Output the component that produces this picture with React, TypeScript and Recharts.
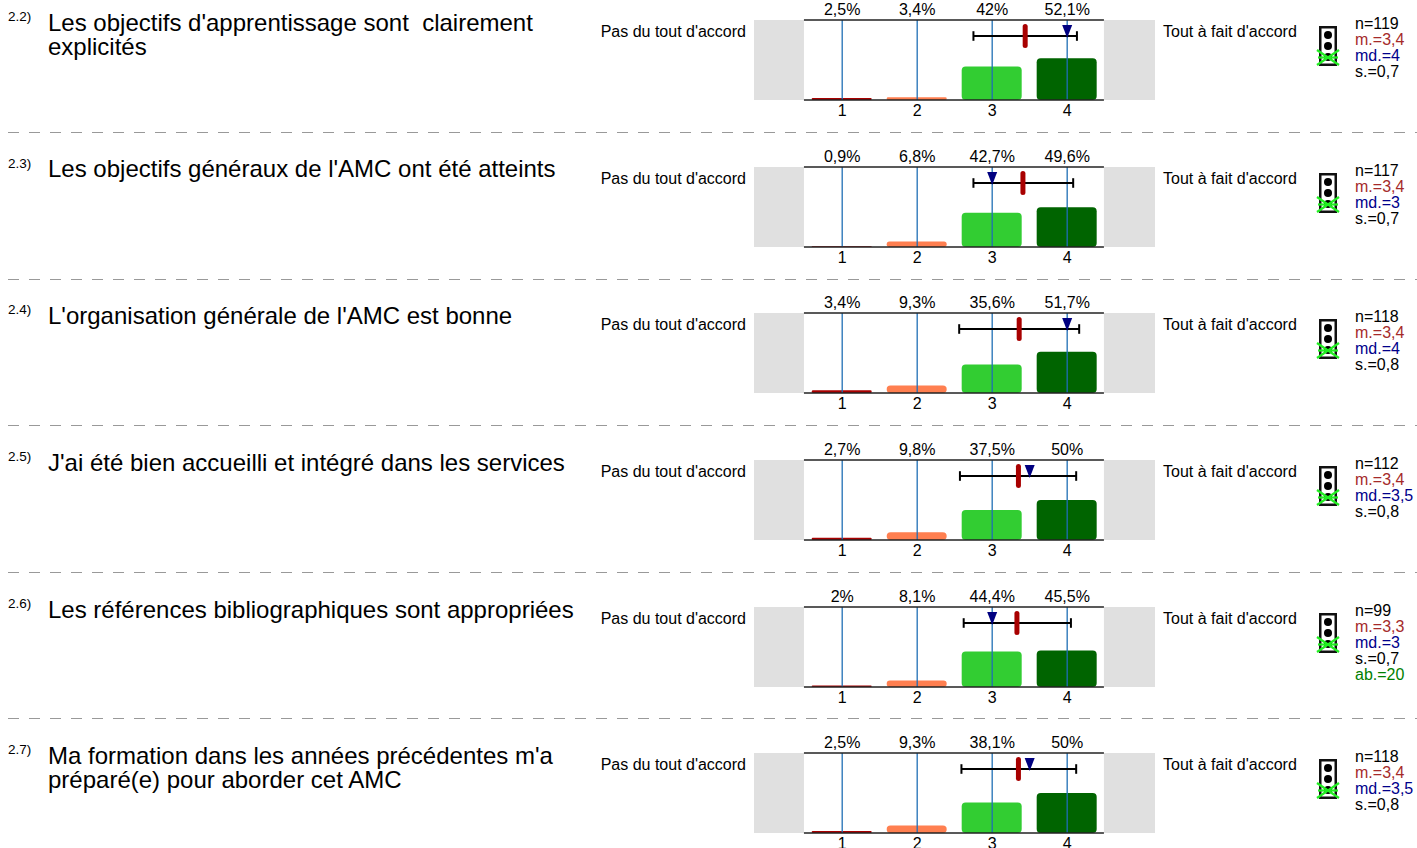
import { Bar, Cell, ComposedChart, ReferenceArea, ReferenceDot, ReferenceLine, XAxis, YAxis } from 'recharts'

const FONT = '"Liberation Sans", Arial, sans-serif'

const questionIds = ['2.2)', '2.3)', '2.4)', '2.5)', '2.6)', '2.7)']
const questions = [
  "Les objectifs d'apprentissage sont  clairement\nexplicités",
  "Les objectifs généraux de l'AMC ont été atteints",
  "L'organisation générale de l'AMC est bonne",
  "J'ai été bien accueilli et intégré dans les services",
  'Les références bibliographiques sont appropriées',
  "Ma formation dans les années précédentes m'a\npréparé(e) pour aborder cet AMC",
]
const categories = [1, 2, 3, 4]

const shares = [
  [2.5, 3.4, 42, 52.1],
  [0.9, 6.8, 42.7, 49.6],
  [3.4, 9.3, 35.6, 51.7],
  [2.7, 9.8, 37.5, 50],
  [2, 8.1, 44.4, 45.5],
  [2.5, 9.3, 38.1, 50],
]
const means = [3.44, 3.41, 3.36, 3.35, 3.33, 3.35]
const medians = [4, 3, 4, 3.5, 3, 3.5]
const deviations = [0.7, 0.7, 0.8, 0.8, 0.7, 0.8]
const whiskerLow = [2.75, 2.75, 2.56, 2.57, 2.62, 2.59]
const whiskerHigh = [4.13, 4.08, 4.16, 4.12, 4.05, 4.12]
const counts = [119, 117, 118, 112, 99, 118]
const abstentions = [null, null, null, null, 20, null]

const BAR_COLORS = ['#a80000', '#ff7f50', '#32cd32', '#006400']
const ROW_TOPS = [20, 167, 313, 460, 607, 753]
const QUESTION_TOPS = [11, 157, 304, 451, 598, 744]
const SEPARATORS = [132, 279, 425, 572, 718]
const DOMAIN: [number, number] = [-0.176, 5.171]

const comma = (v: number) => String(v).replace('.', ',')

function Triangle({ cx, cy }: { cx?: number; cy?: number }) {
  return <path d={`M${cx! - 5},${cy! - 11} L${cx! + 5},${cy! - 11} L${cx!},${cy! + 2} Z`} fill="#000080" />
}

function TrafficLight({ top }: { top: number }) {
  return (
    <svg style={{ position: 'absolute', left: 1316, top: top + 4 }} width={26} height={44}>
      <rect x={4.25} y={3.25} width={15.5} height={37.5} fill="#fff" stroke="#111" strokeWidth={2.5} />
      <circle cx={12} cy={11} r={4} fill="#000" />
      <circle cx={12} cy={22} r={4} fill="#000" />
      <circle cx={12} cy={33} r={4} fill="#000" />
      <g stroke="#22ee22" strokeWidth={2.2}>
        <line x1={1} y1={26} x2={23} y2={41} />
        <line x1={1} y1={41} x2={23} y2={26} />
        <line x1={2} y1={33.5} x2={22} y2={33.5} />
      </g>
    </svg>
  )
}

function Row({ i }: { i: number }) {
  const top = ROW_TOPS[i]
  const data = categories.map((c, k) => ({ category: c, share: shares[i][k] }))
  return (
    <>
      <div style={{ position: 'absolute', left: 8, top: top - 11, fontSize: 13.5 }}>{questionIds[i]}</div>
      <div style={{ position: 'absolute', left: 48, top: QUESTION_TOPS[i], fontSize: 24, lineHeight: '24px', whiteSpace: 'pre' }}>
        {questions[i]}
      </div>
      <div style={{ position: 'absolute', left: 546, width: 200, top: top + 3, fontSize: 16, textAlign: 'right' }}>
        Pas du tout d'accord
      </div>
      <div style={{ position: 'absolute', left: 1163, top: top + 3, fontSize: 16 }}>Tout à fait d'accord</div>
      <div style={{ position: 'absolute', left: 754, top: top - 20 }}>
        <ComposedChart width={401} height={120} data={data} margin={{ top: 0, right: 0, bottom: 0, left: 0 }} barSize={60}>
          <XAxis
            xAxisId="bottom"
            type="number"
            dataKey="category"
            domain={DOMAIN}
            ticks={categories}
            interval={0}
            axisLine={false}
            tickLine={false}
            height={20}
            tickMargin={0}
            tick={{ fontSize: 16, fill: '#000', fontFamily: FONT, dy: -1 }}
          />
          <XAxis
            xAxisId="top"
            orientation="top"
            type="number"
            dataKey="category"
            domain={DOMAIN}
            ticks={categories}
            interval={0}
            axisLine={false}
            tickLine={false}
            height={20}
            tickMargin={0}
            tickFormatter={(v: number) => comma(shares[i][v - 1]) + '%'}
            tick={{ fontSize: 16, fill: '#000', fontFamily: FONT, dy: 1 }}
          />
          <YAxis hide domain={[0, 100]} />
          <ReferenceArea xAxisId="bottom" x1={DOMAIN[0]} x2={0.49} y1={0} y2={100} fill="#e0e0e0" fillOpacity={1} stroke="none" />
          <ReferenceArea xAxisId="bottom" x1={4.49} x2={DOMAIN[1]} y1={0} y2={100} fill="#e0e0e0" fillOpacity={1} stroke="none" />
          <Bar xAxisId="bottom" dataKey="share" radius={4} isAnimationActive={false}>
            {categories.map((c, k) => (
              <Cell key={c} fill={BAR_COLORS[k]} />
            ))}
          </Bar>
          {categories.map((c) => (
            <ReferenceLine key={c} xAxisId="bottom" x={c} stroke="#1f6fb5" strokeWidth={1.3} />
          ))}
          <ReferenceLine xAxisId="bottom" segment={[{ x: 0.49, y: 100 }, { x: 4.49, y: 100 }]} stroke="#222" strokeWidth={1.5} />
          <ReferenceLine xAxisId="bottom" segment={[{ x: 0.49, y: 0 }, { x: 4.49, y: 0 }]} stroke="#222" strokeWidth={1.5} />
          <ReferenceLine xAxisId="bottom" segment={[{ x: whiskerLow[i], y: 80 }, { x: whiskerHigh[i], y: 80 }]} stroke="#000" strokeWidth={2} />
          <ReferenceLine xAxisId="bottom" segment={[{ x: whiskerLow[i], y: 74 }, { x: whiskerLow[i], y: 86 }]} stroke="#000" strokeWidth={2} />
          <ReferenceLine xAxisId="bottom" segment={[{ x: whiskerHigh[i], y: 74 }, { x: whiskerHigh[i], y: 86 }]} stroke="#000" strokeWidth={2} />
          <ReferenceLine xAxisId="bottom" segment={[{ x: means[i], y: 68 }, { x: means[i], y: 92 }]} stroke="#a80000" strokeWidth={5} strokeLinecap="round" />
          <ReferenceDot xAxisId="bottom" x={medians[i]} y={80} shape={<Triangle />} />
        </ComposedChart>
      </div>
      <TrafficLight top={top} />
      <div style={{ position: 'absolute', left: 1355, top: top - 4, fontSize: 16, lineHeight: '16px' }}>
        <div>n={counts[i]}</div>
        <div style={{ color: '#a52a2a' }}>m.={comma(Number(means[i].toFixed(1)))}</div>
        <div style={{ color: '#00008b' }}>md.={comma(medians[i])}</div>
        <div>s.={comma(deviations[i])}</div>
        {abstentions[i] != null && <div style={{ color: '#008000' }}>ab.={abstentions[i]}</div>}
      </div>
    </>
  )
}

export default function App() {
  return (
    <div style={{ position: 'absolute', left: 0, top: 0, width: 1417, height: 848, overflow: 'hidden', background: '#fff', color: '#000', fontFamily: FONT }}>
      {SEPARATORS.map((y) => (
        <div
          key={y}
          style={{
            position: 'absolute',
            left: 8,
            top: y,
            width: 1409,
            height: 1,
            background: 'repeating-linear-gradient(to right, #999 0 11px, transparent 11px 21px)',
          }}
        />
      ))}
      {questions.map((_, i) => (
        <Row key={i} i={i} />
      ))}
    </div>
  )
}
